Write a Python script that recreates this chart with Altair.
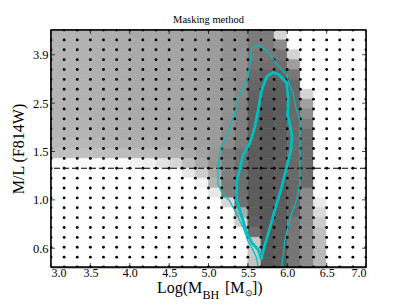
import altair as alt
import pandas as pd
import numpy as np

# ---------------- data ----------------
x_range = [3.0, 7.0]            # log M_BH
ml_range = [0.5, 5.0]           # M/L (log-spaced grid)
n_grid = 25                     # grid points per axis

x_ticks = [3.0, 3.5, 4.0, 4.5, 5.0, 5.5, 6.0, 6.5, 7.0]
ml_ticks = [0.6, 0.96, 1.536, 2.4576, 3.93216]
ml_cut = 1.305                  # dashed horizontal line

# gray level (255 = white) of each grid cell, rows from top to bottom,
# columns from logM = 3.0 to 7.0
cell_gray = [
    [180,179,178,176,174,172,170,168,167,165,163,160,156,146,144,124,124,215,255,255,255,255,255,255],
    [180,179,178,176,174,172,170,168,167,165,163,160,156,146,144,122,122,140,255,255,255,255,255,255],
    [180,179,178,176,174,172,170,168,167,165,163,160,156,146,144,120,118,118,212,255,255,255,255,255],
    [180,179,178,176,174,172,170,168,167,165,163,160,156,146,144,116,112,110,158,255,255,255,255,255],
    [180,179,178,176,174,172,170,168,167,165,163,160,156,146,140,108,100,100,120,255,255,255,255,255],
    [180,179,178,176,174,172,170,168,167,165,163,160,156,146,138,102, 95, 95,105,255,255,255,255,255],
    [180,179,178,176,174,172,170,168,167,165,163,160,156,146,134, 98, 90, 92,105,212,255,255,255,255],
    [180,179,178,176,174,172,170,168,167,165,163,160,156,144,130, 95, 88, 92,105,160,255,255,255,255],
    [180,179,178,176,174,172,170,168,167,165,163,160,156,144,130, 95, 88, 92,105,140,255,255,255,255],
    [181,180,179,177,175,173,171,169,168,166,164,160,156,142,128, 95, 88, 92,105,125,255,255,255,255],
    [182,181,180,178,176,174,172,170,168,166,164,160,155,140,126, 95, 88, 92,105,110,255,255,255,255],
    [186,185,184,182,180,178,176,174,172,169,166,160,154,138,124, 95, 88, 92,105,108,255,255,255,255],
    [192,192,192,191,190,189,187,186,182,178,170,162,150,124,112, 92, 88, 92,105,108,255,255,255,255],
    [250,250,250,250,250,249,242,240,228,215,190,170,148,126,112, 92, 88, 92,105,108,255,255,255,255],
    [255,255,255,255,255,255,255,255,255,255,230,205,168,128,110, 92, 88, 92,105,108,255,255,255,255],
    [255,255,255,255,255,255,255,255,255,255,255,242,180,124,110, 92, 88, 92,105,108,255,255,255,255],
    [255,255,255,255,255,255,255,255,255,255,255,255,232,126,110, 92, 88, 92,105,138,255,255,255,255],
    [255,255,255,255,255,255,255,255,255,255,255,255,255,216,112, 92, 88, 92,105,138,235,255,255,255],
    [255,255,255,255,255,255,255,255,255,255,255,255,255,255,170, 92, 88, 92,105,138,218,255,255,255],
    [255,255,255,255,255,255,255,255,255,255,255,255,255,255,205, 95, 88, 92,118,138,205,255,255,255],
    [255,255,255,255,255,255,255,255,255,255,255,255,255,255,255,110, 88, 92,118,138,192,255,255,255],
    [255,255,255,255,255,255,255,255,255,255,255,255,255,255,255,200, 88, 92,118,138,188,255,255,255],
    [255,255,255,255,255,255,255,255,255,255,255,255,255,255,255,200, 90, 94,118,140,186,255,255,255],
    [255,255,255,255,255,255,255,255,255,255,255,255,255,255,255,196, 90, 94,118,140,184,255,255,255],
]

# contours (log M_BH, log10 M/L)
outer_x = [5.63, 5.61, 5.55, 5.50, 5.44, 5.36, 5.27, 5.17, 5.12, 5.12, 5.15, 5.21, 5.27, 5.34,
           5.40, 5.50, 5.53, 5.55, 5.65, 5.76, 5.87, 5.99, 6.03, 6.08, 6.11, 6.16, 6.16, 6.16,
           6.12, 6.04, 5.97, 5.93]
outer_logml = [-0.301, -0.262, -0.220, -0.191, -0.135, -0.079, -0.023, 0.013, 0.048, 0.118,
               0.194, 0.231, 0.287, 0.357, 0.427, 0.498, 0.568, 0.624, 0.636, 0.603, 0.554,
               0.510, 0.468, 0.426, 0.371, 0.316, 0.194, 0.055, -0.017, -0.088, -0.186, -0.301]
inner_x = [5.673, 5.632, 5.549, 5.485, 5.422, 5.358, 5.360, 5.400, 5.442, 5.527, 5.590, 5.632,
           5.676, 5.739, 5.823, 5.895, 5.993, 6.013, 6.003, 6.035, 6.060, 6.048, 5.984, 5.921,
           5.844, 5.781, 5.717, 5.679, 5.673]
inner_logml = [-0.270, -0.228, -0.198, -0.156, -0.088, -0.017, 0.060, 0.118, 0.173, 0.222,
               0.292, 0.363, 0.447, 0.502, 0.520, 0.510, 0.475, 0.405, 0.342, 0.299, 0.249,
               0.194, 0.110, 0.025, -0.059, -0.135, -0.207, -0.253, -0.270]

# ---------------- tables ----------------
x_nodes = np.linspace(x_range[0], x_range[1], n_grid)
y_nodes = np.linspace(np.log10(ml_range[0]), np.log10(ml_range[1]), n_grid)

cells = []
for k, row in enumerate(cell_gray):
    r = len(cell_gray) - 1 - k
    for i, g in enumerate(row):
        cells.append({"x0": x_nodes[i], "x1": x_nodes[i + 1],
                      "y0": y_nodes[r], "y1": y_nodes[r + 1],
                      "hex": "#%02x%02x%02x" % (g, g, g)})
cells = pd.DataFrame(cells)

dots = pd.DataFrame([{"x0": xv, "y0": yv} for xv in x_nodes for yv in y_nodes])
outer = pd.DataFrame({"x0": outer_x, "y0": outer_logml, "k": range(len(outer_x))})
inner = pd.DataFrame({"x0": inner_x, "y0": inner_logml, "k": range(len(inner_x))})
xt = pd.DataFrame({"x0": x_ticks})
yt = pd.DataFrame({"y0": np.log10(ml_ticks)})
xedge = pd.DataFrame({"x0": x_range})
yedge = pd.DataFrame({"y0": [float(y_nodes[0]), float(y_nodes[-1])]})

# ---------------- chart ----------------
W, H = 315, 237
FONT = "Liberation Serif"
xs = alt.Scale(domain=x_range, nice=False, zero=False)
ys = alt.Scale(domain=[float(np.log10(ml_range[0])), float(np.log10(ml_range[1]))], nice=False, zero=False)

x_axis = alt.Axis(values=x_ticks, format=".1f", title=None, grid=False, ticks=False,
                  domain=True, domainColor="black", domainWidth=1.5,
                  labelFont=FONT, labelFontSize=12, labelPadding=0, labelColor="black")
y_axis = alt.Axis(values=[float(v) for v in np.log10(ml_ticks)],
                  labelExpr="format(pow(10, datum.value), '.1f')",
                  title="M/L (F814W)", titleFont=FONT, titleFontSize=16, titleFontWeight="normal",
                  titleColor="black", titlePadding=6, grid=False, ticks=False,
                  domain=True, domainColor="black", domainWidth=1.5,
                  labelFont=FONT, labelFontSize=12.5, labelPadding=3, labelColor="black")

X = lambda: alt.X("x0:Q", scale=xs, axis=x_axis)
Y = lambda: alt.Y("y0:Q", scale=ys, axis=y_axis)

rects = alt.Chart(cells).mark_rect(strokeWidth=0.6).encode(
    x=X(), x2="x1:Q", y=Y(), y2="y1:Q",
    color=alt.Color("hex:N", scale=None), stroke=alt.Color("hex:N", scale=None))

pts = alt.Chart(dots).mark_circle(size=8, color="black", opacity=1, clip=True).encode(x=X(), y=Y())

cut = alt.Chart(pd.DataFrame({"y0": [float(np.log10(ml_cut))]})).mark_rule(
    color="black", strokeWidth=1.2, strokeDash=[6, 3]).encode(y=Y())

# frame of the plot: full-length rules at the domain limits
spine_x = alt.Chart(xedge).mark_rule(color="#000000", strokeWidth=1.5, opacity=1).encode(x=X())
spine_y = alt.Chart(yedge).mark_rule(color="#000000", strokeWidth=1.5, opacity=1).encode(y=Y())

c_outer = alt.Chart(outer).mark_line(color="#00bfbf", strokeWidth=1.2, clip=True).encode(
    x=X(), y=Y(), order="k:Q")
c_inner = alt.Chart(inner).mark_line(color="#00bfbf", strokeWidth=2.8, clip=True).encode(
    x=X(), y=Y(), order="k:Q")

# inward ticks (half of each tick is clipped away)
tick_b = alt.Chart(xt).mark_tick(color="black", thickness=1, size=8, clip=True,
                                 orient="vertical").encode(x=X(), y=alt.value(H))
tick_t = alt.Chart(xt).mark_tick(color="black", thickness=1, size=8, clip=True,
                                 orient="vertical").encode(x=X(), y=alt.value(0))
tick_l = alt.Chart(yt).mark_tick(color="black", thickness=1, size=8, clip=True,
                                 orient="horizontal").encode(y=Y(), x=alt.value(0))
tick_r = alt.Chart(yt).mark_tick(color="black", thickness=1, size=8, clip=True,
                                 orient="horizontal").encode(y=Y(), x=alt.value(W))

one = pd.DataFrame({"a": [0]})
def label(txt, px, py, size):
    return alt.Chart(one).mark_text(text=txt, align="left", baseline="alphabetic", font=FONT,
                                    fontSize=size, color="black").encode(
        x=alt.value(px), y=alt.value(py))

xtitle = [
    label("Log(M", 106, 263, 16),
    label("BH", 151.5, 268.5, 12),
    label("[M", 174, 263, 16),
    label("\u2299", 193.5, 266, 9),
    label("])", 201, 263, 16),
]

chart = alt.layer(rects, cut, pts, c_outer, c_inner, tick_b, tick_t, tick_l, tick_r,
                  spine_x, spine_y, *xtitle).properties(
    width=W, height=H,
    title=alt.TitleParams("Masking method", font=FONT, fontSize=10.5, fontWeight="normal",
                          color="black", offset=4, anchor="middle"),
    autosize=alt.AutoSizeParams(type="none"),
    padding={"left": 43, "top": 22, "right": 33, "bottom": 36},
).configure(background="white").configure_view(stroke="black", strokeWidth=1.5)

chart.save("out.html", embed_options={"renderer": "svg", "actions": False})
